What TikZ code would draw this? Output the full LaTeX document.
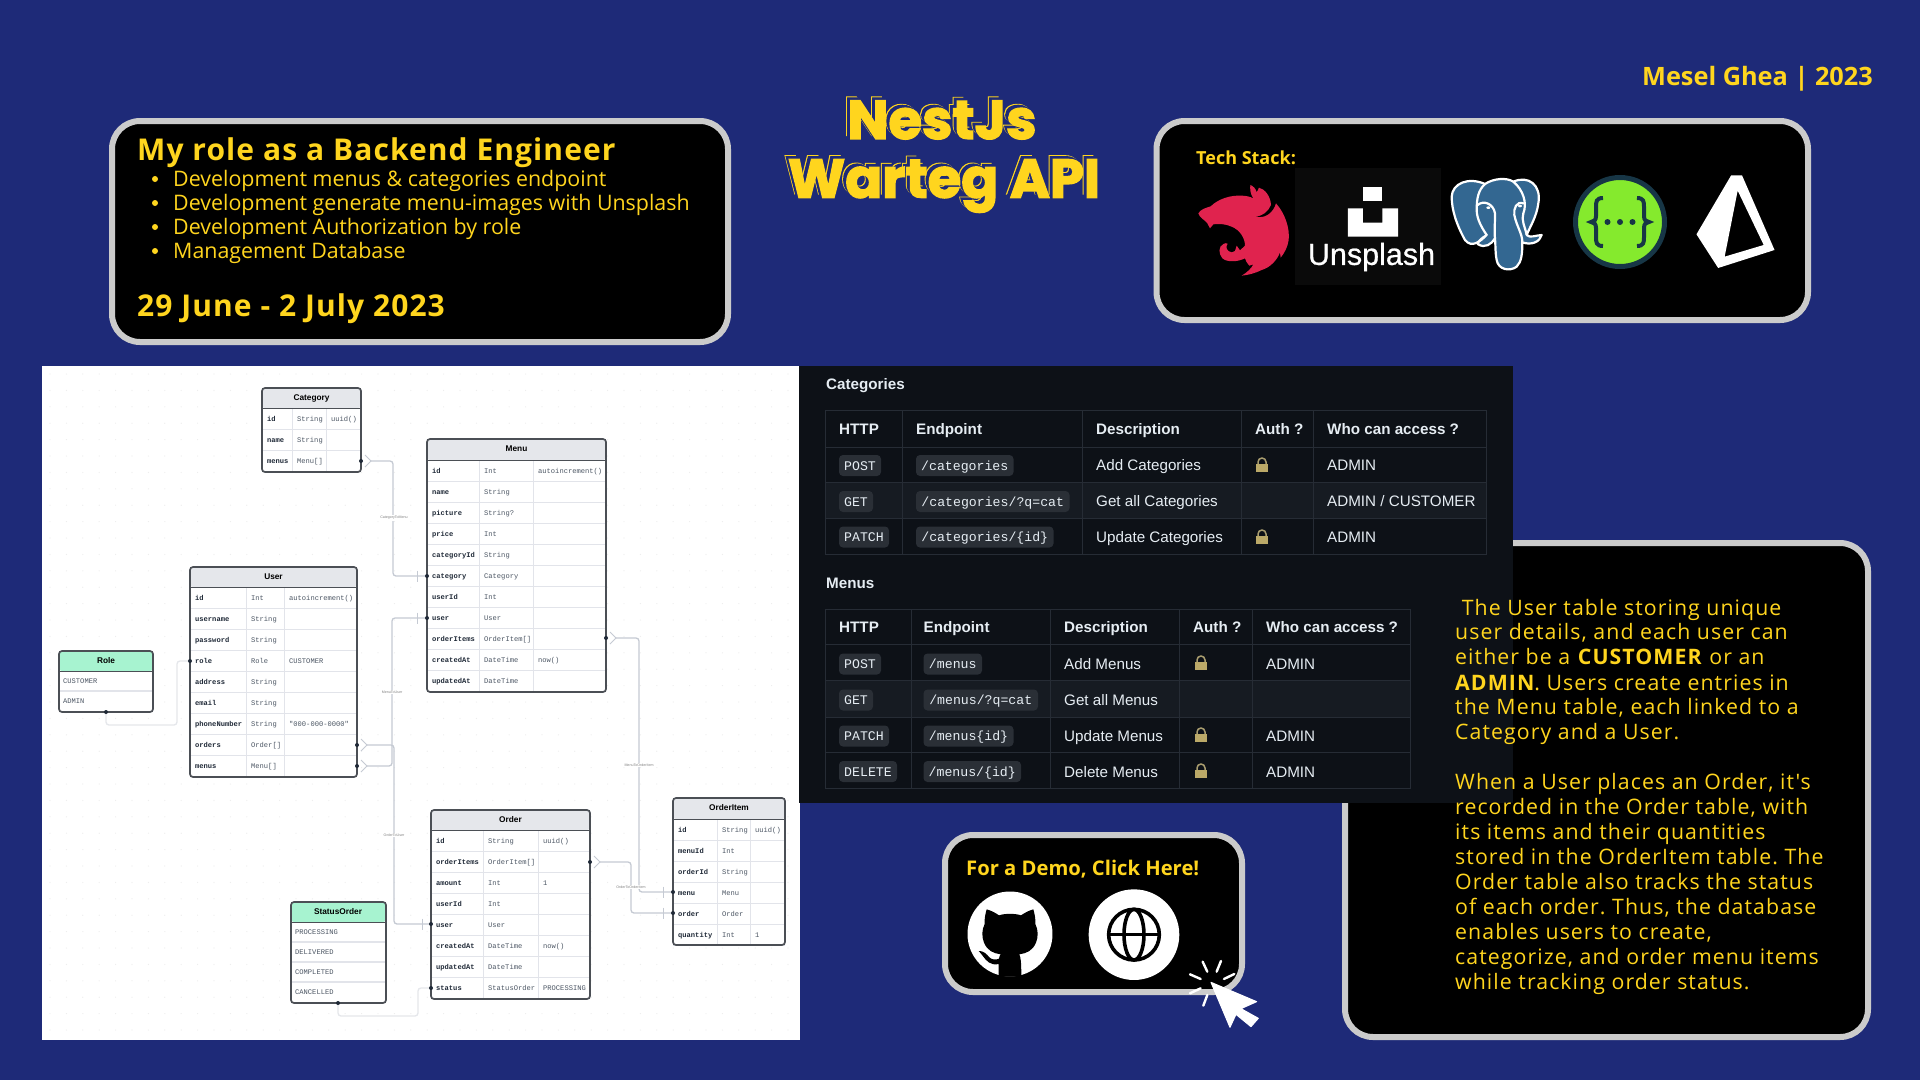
\documentclass[tikz,border=0pt]{standalone}
\usepackage{fontspec}
\setmainfont{Open Sans}
\newfontfamily\ghfont{Liberation Sans}
\newfontfamily\ermono{Liberation Mono}
\newfontfamily\ersans{Liberation Sans}
\newfontfamily\titlefont[FakeBold=2.5]{Poppins}
\newfontfamily\descfont[LetterSpace=5]{Open Sans}
\newfontfamily\unsfont[FakeBold=0.7]{Liberation Sans}
\definecolor{bgnavy}{HTML}{1E2A78}
\definecolor{gold}{HTML}{FFD51E}
\definecolor{cardedge}{HTML}{CBCBCB}
\definecolor{ghpanel}{HTML}{0D1117}
\definecolor{ghstripe}{HTML}{161B22}
\definecolor{ghline}{HTML}{262C35}
\definecolor{ghbadge}{HTML}{2A2F36}
\definecolor{ghtext}{HTML}{E6EDF3}
\definecolor{lockgold}{HTML}{BBA968}
\definecolor{erhead}{HTML}{E5E7EB}
\definecolor{ergreen}{HTML}{A7F3D0}
\definecolor{eredge}{HTML}{4B4F55}
\definecolor{erline}{HTML}{E2E4EA}
\definecolor{errel}{HTML}{C5CAD3}
\definecolor{errelsoft}{HTML}{E5E7EB}
\definecolor{ername}{HTML}{1F2937}
\definecolor{ertype}{HTML}{4B5563}
\definecolor{erdot}{HTML}{EDEDED}
\definecolor{nestred}{HTML}{E0234E}
\definecolor{pgblue}{HTML}{336791}
\definecolor{swgreen}{HTML}{85EA2D}
\definecolor{swdark}{HTML}{173646}
\tikzset{
  card/.style={draw=cardedge,line width=6pt,fill=black,rounded corners=28pt},
  goldtext/.style={text=gold,inner sep=0pt,anchor=west,text height=#1*0.714pt,text depth=0pt},
  thead/.style={text=ghtext,inner sep=0pt,anchor=west,text height=11pt,text depth=0pt,font=\ghfont\bfseries\fontsize{15.2}{18}\selectfont},
  tcell/.style={text=ghtext,inner sep=0pt,anchor=west,text height=11pt,text depth=0pt,font=\ghfont\fontsize{15.2}{18}\selectfont},
  tcode/.style={text=ghtext,inner sep=0pt,anchor=center,text height=9pt,text depth=0pt,font=\ermono\fontsize{13.2}{16}\selectfont},
  ghrule/.style={draw=ghline,line width=1pt},
  erbox/.style={draw=eredge,line width=1.7pt,rounded corners=3pt},
  eritem/.style={inner sep=0pt,anchor=west,text height=5pt,text depth=0pt,text=ername,font=\ermono\bfseries\fontsize{7.1}{8}\selectfont},
  ertypeitem/.style={inner sep=0pt,anchor=west,text height=5pt,text depth=0pt,text=ertype,font=\ermono\fontsize{7.1}{8}\selectfont},
  erhdr/.style={inner sep=0pt,text=black,font=\ersans\bfseries\fontsize{8.3}{9}\selectfont},
  rel/.style={draw=errel,line width=1.3pt,rounded corners=3pt},
  relsoft/.style={draw=errelsoft,line width=1.3pt,rounded corners=3pt},
  rellabel/.style={inner sep=1pt,fill=white,text=gray,font=\ersans\fontsize{3.6}{4}\selectfont},
  erport/.style={circle,fill=ername,inner sep=0pt,minimum size=4pt},
}
\newcommand{\crowfoot}[1]{%
  \draw[white,line width=2pt] ($(#1)+(2,0)$) -- ($(#1)+(9,0)$);
  \draw[errel,line width=1pt] ($(#1)+(4,-6)$) -- ($(#1)+(10,0)$) -- ($(#1)+(4,6)$);}
\newcommand{\onetick}[2]{%
  \draw[errel,line width=1pt] ($(#1)+(#2,-5.5)$) -- ($(#1)+(#2,5.5)$);}
\newcommand{\fieldtable}[9]{%
  \begin{scope}
  \node[erhdr] (#1-title) at ({(#2+#4)/2},{#3+10}) {#8};
  \foreach \na/\ty/\de [count=\i] in {#9}{
    \pgfmathsetmacro{\yc}{#5+10.5+21*(\i-1)}
    \pgfmathsetmacro{\yl}{#5+21*\i}
    \node[eritem] (#1-\i-a) at (#2+5,\yc) {\na};
    \node[ertypeitem] (#1-\i-b) at (#6+5,\yc) {\ty};
    \node[ertypeitem] (#1-\i-c) at (#7+5,\yc) {\de};
    \draw[erline,line width=1pt] (#2,\yl) -- (#4,\yl);
    \xdef\lastyl{\yl}
  }
  \draw[erline,line width=1pt] (#6,#5) -- (#6,\lastyl) (#7,#5) -- (#7,\lastyl);
  \draw[eredge,line width=1pt] (#2,#5) -- (#4,#5);
  \end{scope}}
\newcommand{\lockicon}[2]{%
  \fill[lockgold] (#1-6,#2-1) rectangle (#1+6,#2+7);
  \draw[lockgold!70!gray,line width=1.5pt] (#1-4,#2-1) -- (#1-4,#2-3) arc[start angle=180,end angle=0,radius=4pt] -- (#1+4,#2-1);}
\newcommand{\codebadge}[5]{%
  \fill[ghbadge,rounded corners=4pt] (#2,#4-10.5) rectangle (#3,#4+10.5);
  \node[tcode] (#1) at ({(#2+#3)/2},#4) {#5};}
\usetikzlibrary{calc}
\begin{document}
\begin{tikzpicture}[x=1pt,y=-1pt]
\useasboundingbox (0,0) rectangle (1920,1080);
\fill[bgnavy] (0,0) rectangle (1920,1080);

\node[goldtext=25.3,anchor=east,font=\bfseries\fontsize{25.3}{30}\selectfont] (author) at (1873,76) {Mesel Ghea | 2023};

% role card
\draw[card] (112,121) rectangle (728,342);
\node[goldtext=30,font=\bfseries\addfontfeature{LetterSpace=3.6}\fontsize{30}{34}\selectfont] (roletitle) at (137,150) {My role as a Backend Engineer};
\foreach \t/\yy [count=\i] in {Development menus \& categories endpoint/179,Development generate menu-images with Unsplash/203,Development Authorization by role/227,Management Database/251}{
  \fill[gold] (155,\yy) circle (3pt);
  \node[goldtext=21.4,font=\fontsize{21.4}{26}\selectfont] (role\i) at (173,\yy) {\t};
}
\node[goldtext=30,font=\bfseries\addfontfeature{LetterSpace=3.6}\fontsize{30}{34}\selectfont] (roledate) at (137,306) {29 June - 2 July 2023};

% title
\foreach \dx/\dy/\cc [count=\k] in {-4/-3.6/gold,-3/-2.7/bgnavy,0/0/gold}{
  \node[text=\cc,inner sep=0pt,font=\titlefont\bfseries\fontsize{54.5}{60}\selectfont] (tA\k) at ($(942,120)+(\dx,\dy)$) {NestJs};
  \node[text=\cc,inner sep=0pt,font=\titlefont\bfseries\fontsize{54.5}{60}\selectfont] (tB\k) at ($(944,186)+(\dx,\dy)$) {Warteg API};
}

% tech stack
\draw[card] (1156.5,121) rectangle (1808,320);
\node[goldtext=18,font=\bfseries\fontsize{18}{22}\selectfont] (techlabel) at (1196,158) {Tech Stack:};
\begin{scope}[shift={(1190,175)},x=0.3333pt,y=-0.3333pt]
  % NestJS
  \fill[nestred]
    (25,115) .. controls (32,102) and (50,98) .. (62,94)
    .. controls (85,72) and (120,60) .. (155,62)
    .. controls (168,62) and (180,65) .. (190,70)
    .. controls (180,55) and (180,42) .. (181,30)
    .. controls (190,33) and (198,42) .. (200,52)
    .. controls (203,47) and (205,42) .. (207,38)
    .. controls (225,42) and (242,65) .. (243,90)
    .. controls (235,110) and (215,125) .. (197,124)
    .. controls (222,133) and (250,115) .. (258,85)
    .. controls (285,115) and (300,160) .. (296,195)
    .. controls (293,215) and (285,232) .. (272,248)
    -- (270,232) .. controls (262,255) and (240,278) .. (215,285)
    .. controls (195,295) and (175,300) .. (155,302)
    .. controls (170,293) and (185,280) .. (190,268)
    -- (178,272) .. controls (170,262) and (167,258) .. (165,250)
    .. controls (150,258) and (115,265) .. (97,250)
    .. controls (85,235) and (85,215) .. (100,207)
    .. controls (105,204) and (110,204) .. (113,206)
    .. controls (105,215) and (110,230) .. (125,232)
    -- (135,228) -- (140,212) -- (150,226) -- (165,212)
    .. controls (165,190) and (150,165) .. (125,155)
    .. controls (105,146) and (85,146) .. (70,148)
    -- (60,160) -- (52,145)
    .. controls (45,135) and (28,128) .. (25,115) -- cycle;
  % PostgreSQL
\end{scope}
\begin{scope}[shift={(1150,100)},x=0.4337pt,y=-0.3333pt]
  % Unsplash
  \fill[black!96!white] (335,205) rectangle (672,555);
  \fill[white] (491,260) rectangle (536,302);
  \fill[white] (456,325) -- (491,325) -- (491,368) -- (536,368) -- (536,325) -- (572,325) -- (572,410) -- (456,410) -- cycle;
  % Prisma
  \fill[white,even odd rule] (1340,226) -- (1365,226) -- (1440,450) -- (1310,504) -- (1260,403) -- cycle
     (1355,272) -- (1325,470) -- (1415,435) -- cycle;
\end{scope}
\begin{scope}[shift={(1445,170)},x=0.3333pt,y=-0.3333pt]
  \filldraw[fill=pgblue,draw=white,line width=2.2pt,line join=round]
    (20,80) .. controls (22,40) and (70,20) .. (120,42)
    .. controls (145,25) and (185,22) .. (205,35)
    .. controls (250,15) and (290,45) .. (280,100)
    .. controls (275,140) and (255,170) .. (245,195)
    .. controls (255,205) and (272,196) .. (290,195)
    .. controls (285,215) and (260,227) .. (232,217)
    .. controls (232,250) and (230,275) .. (215,290)
    .. controls (195,305) and (160,300) .. (155,270)
    .. controls (150,245) and (152,225) .. (150,205)
    .. controls (140,222) and (120,237) .. (98,222)
    .. controls (100,212) and (110,205) .. (125,195)
    .. controls (105,215) and (80,235) .. (60,210)
    .. controls (35,165) and (20,120) .. (20,80) -- cycle;
  \draw[white,line width=2.2pt,line cap=round] (120,42) .. controls (100,60) and (95,85) .. (95,120) .. controls (95,150) and (115,180) .. (125,195);
  \draw[white,line width=2.2pt,line cap=round] (205,35) .. controls (235,60) and (247,100) .. (235,130) .. controls (228,150) and (240,170) .. (245,195);
  \draw[white,line width=2.2pt,line cap=round] (98,105) .. controls (115,90) and (145,100) .. (150,130) .. controls (150,160) and (148,190) .. (150,205);
  \draw[white,line width=2.2pt,line cap=round] (235,100) .. controls (215,93) and (205,115) .. (208,135) .. controls (215,170) and (232,190) .. (232,217);
  \fill[white] (130,113) ellipse[x radius=6,y radius=4];
  \fill[white] (225,108) ellipse[x radius=6,y radius=4];
\end{scope}
\node[text=white,inner sep=0pt,font=\unsfont\fontsize{30.5}{34}\selectfont] (unsplashword) at (1371.5,257) {Unsplash};
% Swagger
\filldraw[fill=swgreen,draw=swdark,line width=5pt] (1620,222) circle (44.5pt);
\begin{scope}[line width=4pt,draw=swdark]
  \draw (1603,198) .. controls (1596,198) and (1596,202) .. (1596,207) -- (1596,216) .. controls (1596,220) and (1594,222) .. (1591,222) .. controls (1594,222) and (1596,224) .. (1596,228) -- (1596,237) .. controls (1596,242) and (1596,246) .. (1603,246);
  \draw (1637,198) .. controls (1644,198) and (1644,202) .. (1644,207) -- (1644,216) .. controls (1644,220) and (1646,222) .. (1649,222) .. controls (1646,222) and (1644,224) .. (1644,228) -- (1644,237) .. controls (1644,242) and (1644,246) .. (1637,246);
  \fill[swdark] (1607.5,222) circle (3pt) (1620,222) circle (3pt) (1632.5,222) circle (3pt);
\end{scope}

% ER diagram sheet
\fill[white] (42,366) rectangle (800,1040);
\foreach \gx in {0,...,45}{\foreach \gy in {0,...,40}{
  \fill[erdot] (50+\gx*16.4,374+\gy*16.4) circle (0.6pt);}}

\coordinate (catMenus) at (361,461);
\coordinate (menuCategory) at (427,576);
\coordinate (menuUser) at (427,618);
\coordinate (menuItems) at (606,638);
\coordinate (userRole) at (190,661);
\coordinate (userOrders) at (357,745);
\coordinate (userMenus) at (357,766);
\coordinate (roleBottom) at (106,712);
\coordinate (statusBottom) at (338,1003);
\coordinate (orderUser) at (431,924);
\coordinate (orderStatus) at (431,988);
\coordinate (orderItems) at (590,862);
\coordinate (itemMenu) at (673,892);
\coordinate (itemOrder) at (673,913);

\draw[rel] (catMenus) -- ++(32,0) |- (menuCategory);
\draw[rel] (menuUser) -- ++(-35,0) |- (userMenus);
\draw[rel] (userOrders) -- ++(37,0) |- (orderUser);
\draw[rel] (menuItems) -- ++(33,0) |- (itemMenu);
\draw[rel] (orderItems) -- ++(41,0) |- (itemOrder);
\draw[relsoft] (userRole) -- ++(-13,0) -- ++(0,64) -| (roleBottom);
\draw[relsoft] (orderStatus) -- ++(-13,0) -- ++(0,28) -| (statusBottom);
\crowfoot{catMenus} \crowfoot{userOrders} \crowfoot{userMenus} \crowfoot{menuItems} \crowfoot{orderItems}
\onetick{menuCategory}{-10} \onetick{menuUser}{-10} \onetick{orderUser}{-9} \onetick{itemMenu}{-10} \onetick{itemOrder}{-10}
\node[rellabel] (lblA) at (394,518) {CategoryToMenu};
\node[rellabel] (lblB) at (392,692) {MenuToUser};
\node[rellabel] (lblC) at (394,835) {OrderToUser};
\node[rellabel] (lblD) at (639,765) {MenuToOrderItem};
\node[rellabel] (lblE) at (631,887) {OrderToOrderItem};

\fill[white,rounded corners=3pt] (262,388) rectangle (361,472);
\fill[erhead,rounded corners=3pt] (262,388) rectangle (361,408);
\fieldtable{cat}{262}{388}{361}{408}{292}{326}{Category}{id/String/uuid(),name/String/,menus/Menu[]/}
\draw[erbox] (262,388) rectangle (361,472);

\fill[white,rounded corners=3pt] (427,439) rectangle (606,692);
\fill[erhead,rounded corners=3pt] (427,439) rectangle (606,460);
\fieldtable{menu}{427}{439}{606}{460}{479}{533}{Menu}{id/Int/autoincrement(),name/String/,picture/String?/,price/Int/,categoryId/String/,category/Category/,userId/Int/,user/User/,orderItems/OrderItem[]/,createdAt/DateTime/now(),updatedAt/DateTime/}
\draw[erbox] (427,439) rectangle (606,692);

\fill[white,rounded corners=3pt] (190,567) rectangle (357,777);
\fill[erhead,rounded corners=3pt] (190,567) rectangle (357,587);
\fieldtable{user}{190}{567}{357}{587}{246}{284}{User}{id/Int/autoincrement(),username/String/,password/String/,role/Role/CUSTOMER,address/String/,email/String/,phoneNumber/String/"000-000-0000",orders/Order[]/,menus/Menu[]/}
\draw[erbox] (190,567) rectangle (357,777);

\fill[white,rounded corners=3pt] (431,810) rectangle (590,999);
\fill[erhead,rounded corners=3pt] (431,810) rectangle (590,830);
\fieldtable{order}{431}{810}{590}{830}{483}{538}{Order}{id/String/uuid(),orderItems/OrderItem[]/,amount/Int/1,userId/Int/,user/User/,createdAt/DateTime/now(),updatedAt/DateTime/,status/StatusOrder/PROCESSING}
\draw[erbox] (431,810) rectangle (590,999);

\fill[white,rounded corners=3pt] (673,798) rectangle (785,945);
\fill[erhead,rounded corners=3pt] (673,798) rectangle (785,819);
\fieldtable{item}{673}{798}{785}{819}{717}{750}{OrderItem}{id/String/uuid(),menuId/Int/,orderId/String/,menu/Menu/,order/Order/,quantity/Int/1}
\draw[erbox] (673,798) rectangle (785,945);

\fill[white,rounded corners=3pt] (59,651) rectangle (153,712);
\fill[ergreen,rounded corners=3pt] (59,651) rectangle (153,671);
\draw[eredge,line width=1pt] (59,671) -- (153,671);
\draw[erline,line width=1.3pt] (59,691) -- (153,691);
\node[erhdr] (roletitle2) at (106,661) {Role};
\node[ertypeitem] (roleA) at (63,681) {CUSTOMER};
\node[ertypeitem] (roleB) at (63,701) {ADMIN};
\draw[erbox] (59,651) rectangle (153,712);

\fill[white,rounded corners=3pt] (291,902) rectangle (386,1003);
\fill[ergreen,rounded corners=3pt] (291,902) rectangle (386,922);
\draw[eredge,line width=1pt] (291,922) -- (386,922);
\draw[erline,line width=1.3pt] (291,942) -- (386,942) (291,962) -- (386,962) (291,982) -- (386,982);
\node[erhdr] (statustitle) at (338,912) {StatusOrder};
\node[ertypeitem] (stA) at (295,932) {PROCESSING};
\node[ertypeitem] (stB) at (295,952) {DELIVERED};
\node[ertypeitem] (stC) at (295,972) {COMPLETED};
\node[ertypeitem] (stD) at (295,992) {CANCELLED};
\draw[erbox] (291,902) rectangle (386,1003);

\foreach \p in {catMenus,menuCategory,menuUser,menuItems,userRole,userOrders,userMenus,roleBottom,statusBottom,orderUser,orderStatus,orderItems,itemMenu,itemOrder}{
  \node[erport] (port-\p) at (\p) {};
}

% description card
\draw[card] (1345,543) rectangle (1868,1037);

% API panel
\fill[ghpanel] (799,366) rectangle (1513,803);
\node[thead] (catsH) at (826,384) {Categories};
\fill[ghstripe] (825,482) rectangle (1486,518);
\draw[ghrule] (825,410) rectangle (1486,554);
\draw[ghrule] (825,447) -- (1486,447) (825,482) -- (1486,482) (825,518) -- (1486,518)
  (902,410) -- (902,554) (1082,410) -- (1082,554) (1241,410) -- (1241,554) (1313,410) -- (1313,554);
\node[thead] (h1a) at (839,429) {HTTP};
\node[thead] (h1b) at (916,429) {Endpoint};
\node[thead] (h1c) at (1096,429) {Description};
\node[thead] (h1d) at (1255,429) {Auth ?};
\node[thead] (h1e) at (1327,429) {Who can access ?};
\codebadge{b1}{839}{881}{465.5}{POST}
\codebadge{b2}{839}{873}{501.5}{GET}
\codebadge{b3}{839}{889}{537}{PATCH}
\codebadge{e1}{916}{1013.5}{465.5}{/categories}
\codebadge{e2}{916}{1069.5}{501.5}{/categories/?q=cat}
\codebadge{e3}{916}{1053.5}{537}{/categories/\{id\}}
\node[tcell] (d1) at (1096,465) {Add Categories};
\node[tcell] (d2) at (1096,501) {Get all Categories};
\node[tcell] (d3) at (1096,537) {Update Categories};
\node[tcell] (w1) at (1327,465) {ADMIN};
\node[tcell] (w2) at (1327,501) {ADMIN / CUSTOMER};
\node[tcell] (w3) at (1327,537) {ADMIN};
\lockicon{1262}{465} \lockicon{1262}{537}

\node[thead] (menusH) at (826,583) {Menus};
\fill[ghstripe] (825,680) rectangle (1410,717);
\draw[ghrule] (825,609) rectangle (1410,788);
\draw[ghrule] (825,644) -- (1410,644) (825,680) -- (1410,680) (825,717) -- (1410,717) (825,752) -- (1410,752)
  (911,609) -- (911,788) (1050,609) -- (1050,788) (1179,609) -- (1179,788) (1252,609) -- (1252,788);
\node[thead] (h2a) at (839,627) {HTTP};
\node[thead] (h2b) at (923.5,627) {Endpoint};
\node[thead] (h2c) at (1064,627) {Description};
\node[thead] (h2d) at (1193,627) {Auth ?};
\node[thead] (h2e) at (1266,627) {Who can access ?};
\codebadge{c1}{839}{881}{664}{POST}
\codebadge{c2}{839}{873}{700}{GET}
\codebadge{c3}{839}{889}{736}{PATCH}
\codebadge{c4}{839}{897}{771.5}{DELETE}
\codebadge{f1}{923.5}{982}{664}{/menus}
\codebadge{f2}{923.5}{1038}{700}{/menus/?q=cat}
\codebadge{f3}{923.5}{1013.5}{736}{/menus\{id\}}
\codebadge{f4}{923.5}{1021}{771.5}{/menus/\{id\}}
\node[tcell] (g1) at (1064,663.5) {Add Menus};
\node[tcell] (g2) at (1064,699.5) {Get all Menus};
\node[tcell] (g3) at (1064,735.5) {Update Menus};
\node[tcell] (g4) at (1064,771.5) {Delete Menus};
\node[tcell] (x1) at (1266,663.5) {ADMIN};
\node[tcell] (x3) at (1266,735.5) {ADMIN};
\node[tcell] (x4) at (1266,771.5) {ADMIN};
\lockicon{1201}{663} \lockicon{1201}{735} \lockicon{1201}{771}

% description text lies over the panel
\foreach \t/\yy [count=\i] in {{\ The User table storing unique}/608,{user details, and each user can}/632,{either be a \textbf{CUSTOMER} or an}/657,{\textbf{ADMIN}. Users create entries in}/683,{the Menu table, each linked to a}/707,{Category and a User.}/732,{When a User places an Order, it's}/782,{recorded in the Order table, with}/807,{its items and their quantities}/832,{stored in the OrderItem table. The}/857,{Order table also tracks the status}/882,{of each order. Thus, the database}/907,{enables users to create,}/932,{categorize, and order menu items}/957,{while tracking order status.}/982}{
  \node[goldtext=21.3,font=\descfont\frenchspacing\fontsize{21.3}{25}\selectfont] (desc\i) at (1455,\yy) {\t};
}

% demo card
\draw[card] (945,835) rectangle (1242,992);
\node[goldtext=20.2,font=\bfseries\fontsize{20.2}{24}\selectfont] (demolabel) at (966,868) {For a Demo, Click Here!};
\begin{scope}[shift={(930,820)},x=0.3333pt,y=-0.3333pt]
  \fill[white] (240,342) circle[radius=127.5];
  \fill[black] (170,268) .. controls (185,272) and (198,280) .. (207,286)
     .. controls (225,280) and (255,280) .. (273,286)
     .. controls (285,278) and (298,271) .. (310,268)
     .. controls (315,285) and (317,300) .. (316,312)
     .. controls (325,330) and (325,350) .. (318,368)
     .. controls (308,392) and (290,400) .. (268,403)
     .. controls (272,412) and (274,425) .. (274,470)
     -- (206,470) -- (206,432)
     .. controls (180,438) and (168,420) .. (160,410)
     .. controls (155,402) and (150,398) .. (146,393)
     .. controls (160,392) and (170,402) .. (178,412)
     .. controls (186,420) and (198,420) .. (207,416)
     .. controls (207,410) and (210,406) .. (212,403)
     .. controls (190,400) and (172,392) .. (162,368)
     .. controls (155,350) and (155,330) .. (164,312)
     .. controls (163,300) and (165,285) .. (170,268) -- cycle;
  \fill[white] (612,344) circle[radius=136];
  \draw[black,line width=3.6pt] (612,344) circle[radius=76];
  \draw[black,line width=3.6pt] (612,344) ellipse[x radius=30,y radius=76];
  \draw[black,line width=3.6pt] (536,344) -- (688,344);
  \draw[white,line width=2.4pt,line cap=round] (818,425) -- (832,455) (873,423) -- (860,455) (780,463) -- (812,477) (913,462) -- (882,477) (780,520) -- (812,505) (832,525) -- (820,557);
  \filldraw[fill=white,draw=white,line width=1pt,line join=round] (843,487) -- (980,545) -- (933,566) -- (985,595) -- (963,620) -- (918,583) -- (900,622) -- cycle;
\end{scope}
\end{tikzpicture}
\end{document}
